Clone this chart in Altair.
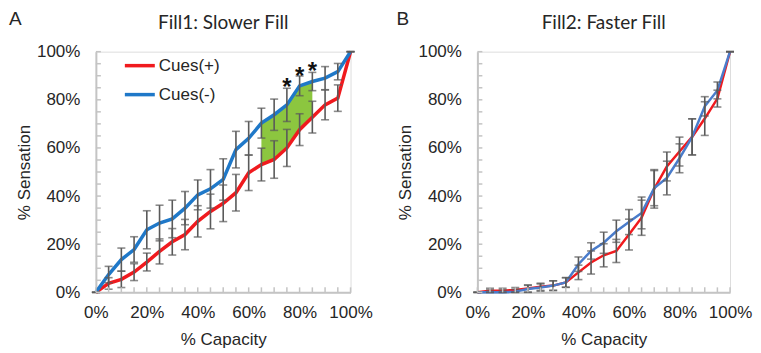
import altair as alt
import pandas as pd

# ---------------- data ----------------
capacity = list(range(0, 101, 5))  # % capacity

# Panel A: Fill1 (slower fill)
fill1_cues_pos = [0, 3.7, 5.4, 8.4, 12.6, 17, 21, 24, 29.5, 33.6, 37, 41.4,
                  49.7, 53.1, 55.2, 60, 67.6, 72.8, 77.9, 80.7, 100]
fill1_cues_neg = [0, 7.4, 13.6, 17.8, 26, 28.8, 30.5, 35, 40.5, 43, 46.9, 59.3,
                  64, 70.3, 73.8, 77.9, 85.8, 87.6, 89, 91.7, 100]
fill1_err_pos = [0, 2.4, 3.4, 3.5, 3.7, 5.2, 5.5, 6.3, 6.5, 7.2, 7.6, 7.6,
                 7.4, 6.8, 7.8, 7.7, 6.6, 6.6, 6.2, 5.5, 0]
fill1_err_neg = [0, 3.4, 4.8, 5.3, 7.9, 7.4, 7.8, 6.9, 6.2, 8, 8.6, 7.6,
                 7, 6.2, 6.5, 6.9, 4.1, 3.8, 4.8, 3.4, 0]

# Panel B: Fill2 (faster fill)
fill2_cues_pos = [0, 0.7, 0.7, 1, 1.6, 2.3, 2.8, 4.1, 8.3, 12.4, 15.4, 17.2,
                  24, 31, 43, 52.3, 58.5, 64.6, 72.2, 80.5, 100]
fill2_cues_neg = [0, 0, 0, 0.3, 1.4, 2, 2.8, 4.1, 11.7, 17.2, 20.6, 25.4,
                  29.2, 33, 43.3, 47.5, 55.7, 64.6, 77.3, 83.9, 100]
fill2_err_pos = [0, 1, 1, 1, 1.5, 1.5, 2, 2, 3, 4.8, 4.8, 4.8,
                 6.4, 7.3, 8, 6, 6, 7.5, 7, 3.5, 0]
fill2_err_neg = [0, 1, 1, 1, 1.5, 1.5, 2, 2, 3, 3.4, 4.4, 4.6,
                 5.2, 6.6, 7.3, 7, 6, 7.5, 4, 3.5, 0]

# significance region (shaded) and asterisks in panel A
shade_from, shade_to = 65, 85
star_capacity = [75, 80, 85]
star_level = [87, 91.5, 93.5]

series_names = ["Cues(+)", "Cues(-)"]
tick_positions = list(range(0, 101, 5))
label_values = [0, 0.2, 0.4, 0.6, 0.8, 1.0]

# ---------------- styling ----------------
RED = "#F01A1E"
BLUE_A = "#1F78C8"
BLUE_B = "#4A7CCB"
GRAY = "#5A5A5A"
AXIS_GRAY = "#C4C4C4"
TEXT = "#262626"
GREEN = "#8CC63F"
AXFONT = "Liberation Sans"
TITLEFONT = "Lato"


def long_df(pos, neg, epos, eneg):
    rows = []
    for name, vals, errs in ((series_names[0], pos, epos), (series_names[1], neg, eneg)):
        for c, v, e in zip(capacity, vals, errs):
            rows.append({"cap": c / 100, "val": v / 100,
                         "lo": max(v - e, 0) / 100, "hi": (v + e) / 100,
                         "series": name})
    return pd.DataFrame(rows)


xscale = alt.Scale(domain=[0, 1], nice=False, zero=False)
yscale = alt.Scale(domain=[0, 1], nice=False, zero=False)

xaxis = alt.Axis(values=label_values, format=".0%", title="% Capacity",
                 labelFont=AXFONT, labelFontSize=17, labelColor=TEXT,
                 labelOverlap=False, labelFlush=False,
                 titleFont=AXFONT, titleFontSize=17, titleFontWeight="normal",
                 titleColor=TEXT, titlePadding=11, labelPadding=12,
                 ticks=False, grid=False, domainColor=AXIS_GRAY, domainWidth=2)
yaxis = alt.Axis(values=label_values, format=".0%", title="% Sensation",
                 labelFont=AXFONT, labelFontSize=17, labelColor=TEXT,
                 labelOverlap=False, labelFlush=False,
                 titleFont=AXFONT, titleFontSize=17, titleFontWeight="normal",
                 titleColor=TEXT, titlePadding=3, labelPadding=16,
                 ticks=False, grid=False, domainColor=AXIS_GRAY, domainWidth=2)

ticks_df = pd.DataFrame({"t": [t / 100 for t in tick_positions]})


def panel(pos, neg, epos, eneg, blue, lw, title, letter, letter_x, width,
          height, legend, shade=False, stars=False):
    df = long_df(pos, neg, epos, eneg)
    X = lambda f: alt.X(f, scale=xscale, axis=xaxis)
    Y = lambda f: alt.Y(f, scale=yscale, axis=yaxis)
    if legend:
        leg = alt.Legend(orient="none", legendX=27, legendY=-3, title=None,
                         symbolType="stroke", symbolStrokeWidth=3.5,
                         symbolSize=900, labelFont=AXFONT, labelFontSize=17,
                         labelColor=TEXT, rowPadding=4, labelOffset=2,
                         padding=0)
    else:
        leg = None
    color = alt.Color("series:N",
                      scale=alt.Scale(domain=series_names, range=[RED, blue]),
                      legend=leg)
    layers = []
    if shade:
        sub_pos = [v / 100 for c, v in zip(capacity, pos) if shade_from <= c <= shade_to]
        sub_neg = [v / 100 for c, v in zip(capacity, neg) if shade_from <= c <= shade_to]
        sub_cap = [c / 100 for c in capacity if shade_from <= c <= shade_to]
        sdf = pd.DataFrame({"cap": sub_cap, "lo": sub_pos, "hi": sub_neg})
        layers.append(alt.Chart(sdf).mark_area(color=GREEN, opacity=1).encode(
            x=X("cap:Q"), y=Y("lo:Q"), y2="hi:Q"))
    layers.append(alt.Chart(df).mark_line(strokeWidth=lw).encode(
        x=X("cap:Q"), y=Y("val:Q"), color=color,
        order=alt.Order("cap:Q")))
    layers.append(alt.Chart(df).mark_errorbar(
        ticks=True, size=8, thickness=1.6, color=GRAY).encode(
        x=X("cap:Q"), y=Y("lo:Q"), y2="hi:Q"))
    # inward ticks on both axes
    layers.append(alt.Chart(ticks_df).mark_rule(color=AXIS_GRAY, strokeWidth=1.5).encode(
        y=Y("t:Q"), x=alt.value(0), x2=alt.value(5)))
    layers.append(alt.Chart(ticks_df).mark_rule(color=AXIS_GRAY, strokeWidth=1.5).encode(
        x=X("t:Q"), y=alt.value(height), y2=alt.value(height - 5)))
    if stars:
        stdf = pd.DataFrame({"cap": [c / 100 for c in star_capacity],
                             "lvl": [s / 100 for s in star_level]})
        layers.append(alt.Chart(stdf).mark_text(
            text="*", font=AXFONT, fontSize=24, fontWeight="bold",
            color="#111111", baseline="middle", dy=5).encode(
            x=X("cap:Q"), y=Y("lvl:Q")))
    # panel letter and panel title as text
    layers.append(alt.Chart(pd.DataFrame({"lab": [letter]})).mark_text(
        font=AXFONT, fontSize=19, color=TEXT, align="left",
        baseline="alphabetic").encode(
        text="lab:N", x=alt.value(letter_x), y=alt.value(-26.5)))
    layers.append(alt.Chart(pd.DataFrame({"lab": [title]})).mark_text(
        font=TITLEFONT, fontSize=19, color=TEXT, align="center",
        baseline="alphabetic").encode(
        text="lab:N", x=alt.value(width / 2), y=alt.value(-23)))
    return alt.layer(*layers).properties(width=width, height=height)


chart_a = panel(fill1_cues_pos, fill1_cues_neg, fill1_err_pos, fill1_err_neg,
                BLUE_A, 3.5, "Fill1: Slower Fill", "A", -87, 255, 241, True,
                shade=True, stars=True)
chart_b = panel(fill2_cues_pos, fill2_cues_neg, fill2_err_pos, fill2_err_neg,
                BLUE_B, 2.5, "Fill2: Faster Fill", "B", -81, 253, 241, False)

chart = alt.hconcat(chart_a, chart_b, spacing=22).resolve_scale(
    color="independent").properties(
    padding={"top": 1.5, "left": 0, "right": 0, "bottom": 0}).configure_view(
    stroke=None).configure(background="white")

chart.save("out.html", embed_options={"renderer": "svg", "actions": False})
